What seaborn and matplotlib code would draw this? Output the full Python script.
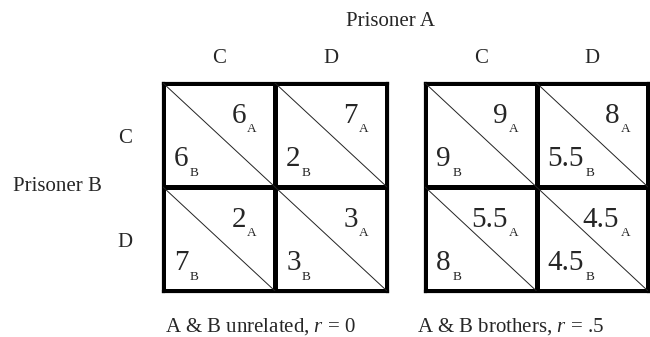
import numpy as np
import matplotlib
matplotlib.use("Agg")
import matplotlib.pyplot as plt
from matplotlib.colors import ListedColormap
import seaborn as sns

sns.set_style("white")
plt.rcParams['font.family'] = ['Liberation Serif', 'DejaVu Serif']
plt.rcParams['mathtext.fontset'] = 'custom'
plt.rcParams['mathtext.rm'] = 'Liberation Serif'
plt.rcParams['mathtext.it'] = 'Liberation Serif:italic'

# ---- data ----
strategies = ['C', 'D']
unrelated_A = [[6, 7], [2, 3]]
unrelated_B = [[6, 2], [7, 3]]
brothers_A = [[9, 8], [5.5, 4.5]]
brothers_B = [[9, 5.5], [8, 4.5]]
captions = ['A & B unrelated, $r$ = 0', 'A & B brothers, $r$ = .5']
player_A = 'Prisoner A'
player_B = 'Prisoner B'

W, H = 650, 337
fig = plt.figure(figsize=(W / 100, H / 100), dpi=100)

def px(x0, y0, x1, y1):
    return [x0 / W, 1 - y1 / H, (x1 - x0) / W, (y1 - y0) / H]

axes = [fig.add_axes(px(163, 83, 387, 291)), fig.add_axes(px(425, 83, 648, 291))]
tables = [(unrelated_A, unrelated_B), (brothers_A, brothers_B)]

NUM = 21
SUB = 9.5
LW = 2.3

for ax, (pa, pb) in zip(axes, tables):
    grid = np.zeros((len(strategies), len(strategies)))
    sns.heatmap(grid, cmap=ListedColormap(['white']), cbar=False,
                linewidths=LW, linecolor='black', ax=ax,
                xticklabels=False, yticklabels=False)
    for sp in ax.spines.values():
        sp.set_visible(True)
        sp.set_linewidth(LW)
        sp.set_color('black')
    for r in range(len(strategies)):
        for c in range(len(strategies)):
            ax.plot([c, c + 1], [r, r + 1], color='#222222', lw=0.7, zorder=3)
            ta = ax.text(c + 0.74, r + 0.38, f'{pa[r][c]:g}', fontsize=NUM,
                         ha='right', va='baseline', zorder=4)
            ax.annotate('A', xy=(1, 0), xycoords=ta, xytext=(1.0, -2.5),
                        textcoords='offset points', fontsize=SUB,
                        ha='left', va='baseline')
            tb = ax.text(c + 0.10, r + 0.80, f'{pb[r][c]:g}', fontsize=NUM,
                         ha='left', va='baseline', zorder=4)
            ax.annotate('B', xy=(1, 0), xycoords=tb, xytext=(1.0, -2.5),
                        textcoords='offset points', fontsize=SUB,
                        ha='left', va='baseline')
    for c, s in enumerate(strategies):
        ax.text(c + 0.5, -0.24, s, fontsize=15, ha='center', va='center',
                clip_on=False)

# row labels (left of first matrix)
for r, s in enumerate(strategies):
    axes[0].text(-0.34, r + 0.53, s, fontsize=15, ha='center', va='center',
                 clip_on=False)

fig.text(391 / W, 1 - 22 / H, player_A, fontsize=15, ha='center', va='center')
fig.text(13 / W, 1 - 187 / H, player_B, fontsize=15, ha='left', va='center')
fig.text(165 / W, 1 - 327 / H, captions[0], fontsize=15, ha='left', va='center')
fig.text(417 / W, 1 - 327 / H, captions[1], fontsize=15, ha='left', va='center')

fig.savefig('out.png', dpi=100, facecolor='white')
